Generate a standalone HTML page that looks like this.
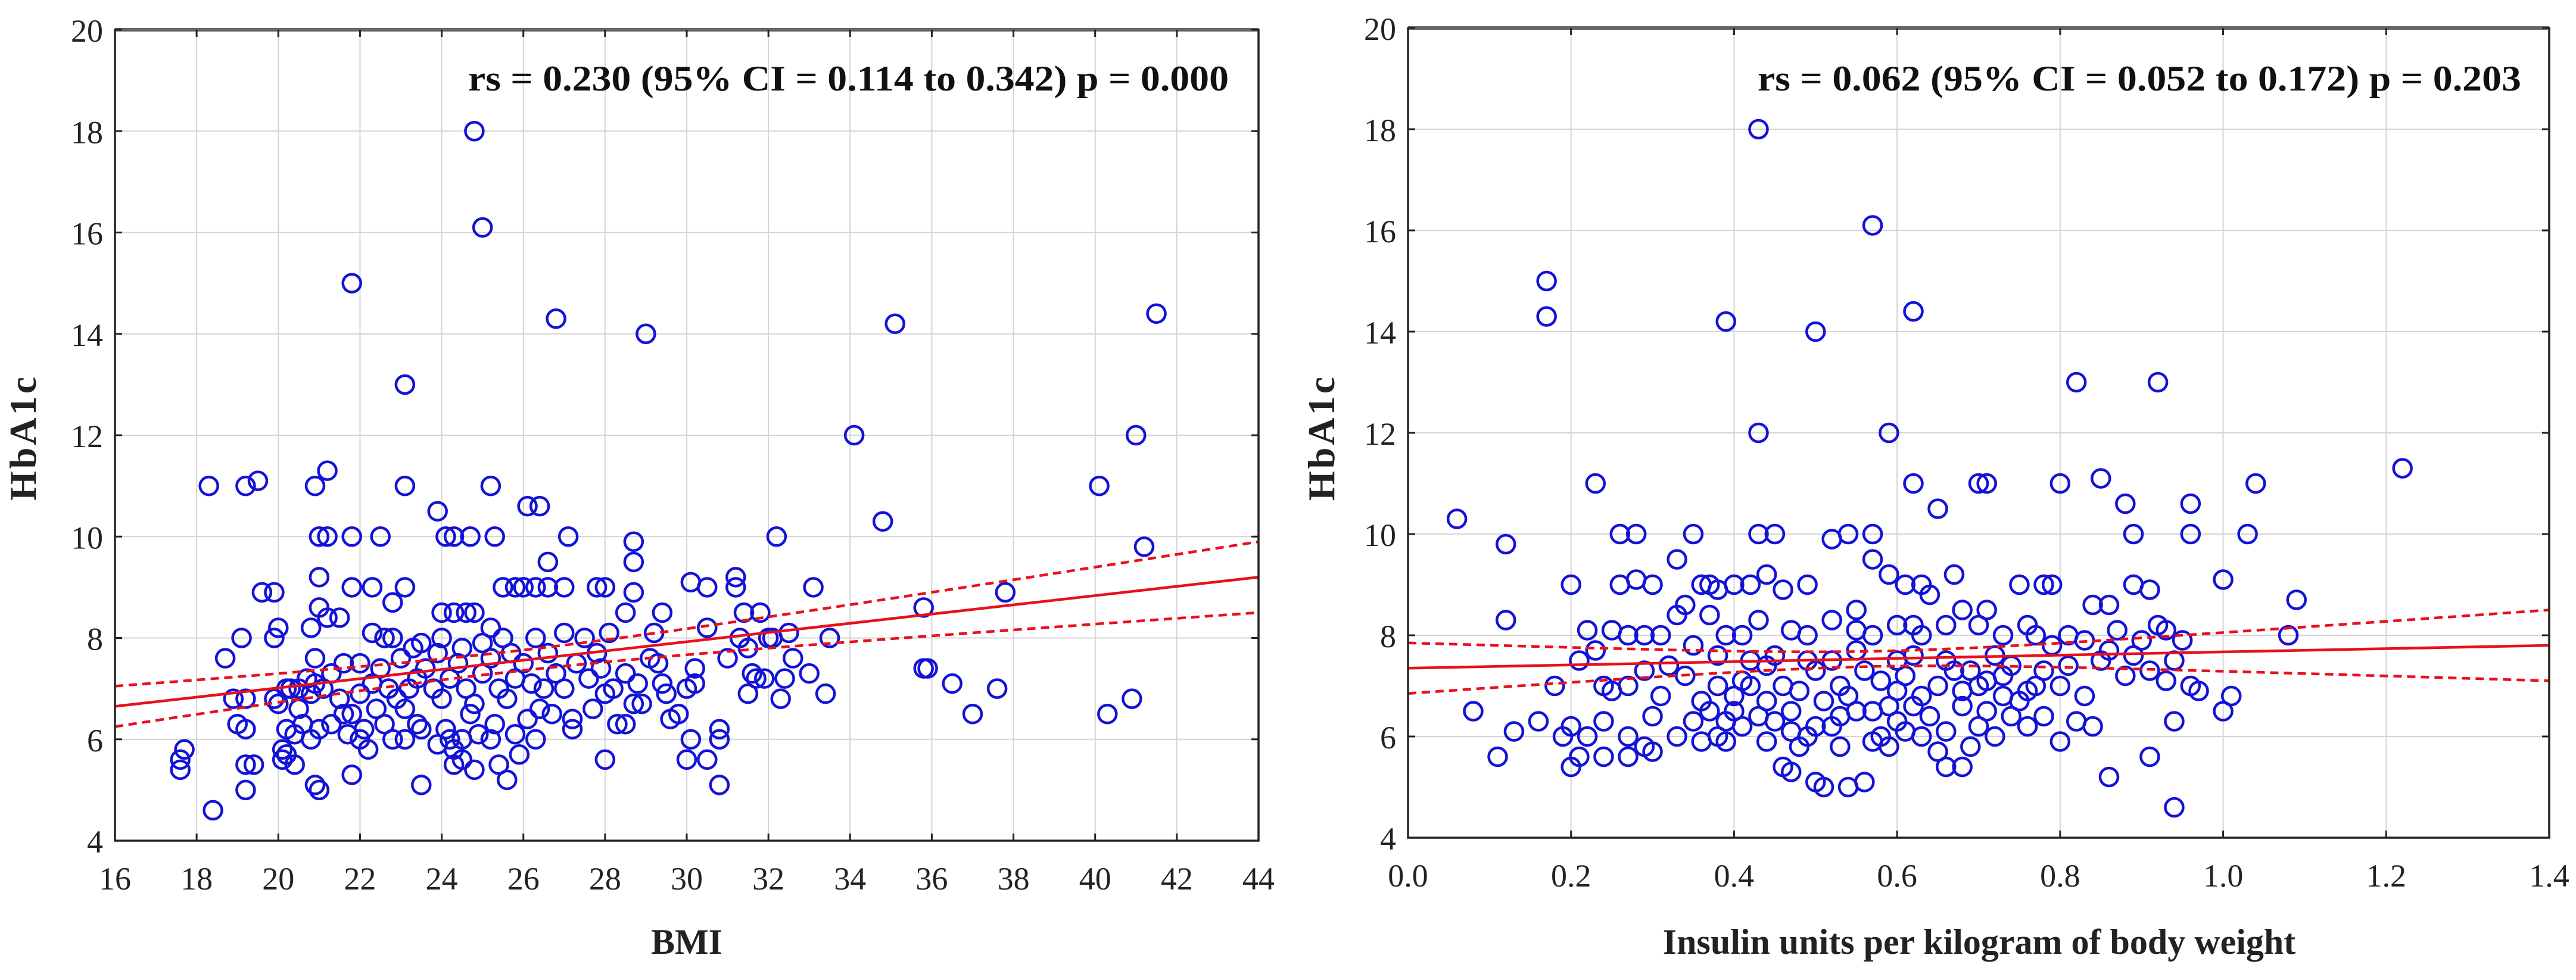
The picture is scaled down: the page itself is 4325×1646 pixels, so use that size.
<!DOCTYPE html>
<html><head><meta charset="utf-8">
<style>
html,body{margin:0;padding:0;background:#fff;}
svg{display:block;font-family:"Liberation Serif",serif;}
</style></head>
<body>
<svg id="chart" width="4325" height="1646" viewBox="0 0 4325 1646" xmlns="http://www.w3.org/2000/svg"></svg>
<script>
// ---- data: left panel (BMI vs HbA1c)
const bmiX = [24.8,25,21.8,26.8,29,35.1,41.5,23.1,34.1,41,40.1,18.3,19.2,19.5,20.9,21.2,23.1,25.2,23.9,26.1,26.4,34.8,41.2,21,21.2,21.8,22.5,24.1,24.3,24.7,25.3,27.1,32.2,28.7,28.7,26.6,19.6,19.9,21,21.8,22.3,22.8,23.1,25.5,25.8,26,26.3,26.6,27,27.8,28,28.7,29.4,30.1,30.5,31.2,31.2,33.1,37.8,35.8,31.4,31.8,28.5,24,24.3,24.6,24.8,21,20,20.8,19.1,19.9,21.2,21.5,22.3,22.6,22.8,23.5,24,25.2,25.5,26.3,27.0,27.5,28.1,29.2,30.5,31.3,32.0,32.5,33.5,18.7,18.9,19.2,19.0,19.2,17.6,17.7,17.6,18.4,19.2,19.4,19.2,20.9,21.0,20.1,20.1,20.2,20.4,21.8,22.2,23.5,24.3,24.5,25.4,25.6,24.8,24.3,25.9,28,30,30.5,30.8,30.1,30.8,30.8,29.6,29.8,31.0,31.6,31.7,31.5,31.9,32.4,33.0,33.4,32.3,35.8,35.9,36.5,37.0,37.6,40.3,40.9,31.5,32.1,32.6,30.2,30.2,30.0,29.3,29.4,28.7,28.9,28.5,28.3,27.2,27.2,26.7,26.1,26.3,25.8,25.3,25.2,24.9,24.5,24.2,23.9,23.5,23.1,22.8,22.6,22.1,22.0,21.7,21.6,21.3,21.0,20.8,20.6,20.4,20.2,20.5,20.8,20.7,20.3,20.5,20.9,21.1,21.3,21.5,21.8,22.0,22.3,22.5,22.7,22.9,23.2,23.4,23.6,23.8,24.0,24.2,24.4,24.6,24.8,25.0,25.2,25.4,25.6,25.8,26.0,26.2,26.5,26.8,27.0,27.3,27.6,27.9,28.2,28.5,28.8,29.1,23.0,23.3,23.9,24.5,25.0,25.7,26.6,27.8,22.0,21.6,20.9,20.2,20.0,19.9,22.4,23.1,24.7,26.4,27.7,29.5,28.0,23.4,24.1];
const bmiY = [18,16.1,15,14.3,14,14.2,14.4,13,12,12,11,11,11,11.1,11,11.3,11,11,10.5,10.6,10.6,10.3,9.8,10,10,10,10,10,10,10,10,10,10,9.9,9.5,9.5,8.9,8.9,9.2,9,9,8.7,9,9,9,9,9,9,9,9,9,8.9,8.5,9.1,9,9.2,9,9,8.9,8.6,8.5,8.5,8.5,8.5,8.5,8.5,8.5,8.6,8.2,8.2,8,8,8.4,8.4,8.1,8,8,7.9,8,8.2,8,8,8.1,8,8.1,8.1,8.2,8,8,8.1,8,7.6,6.8,6.8,6.3,6.2,5.6,5.8,5.4,4.6,5.5,5.5,5.0,5.1,5.0,5.8,5.6,5.7,5.5,5.3,5.8,5.1,5.5,5.6,5.5,5.2,5.4,5.8,5.7,5.6,5.6,5.6,5.1,6.0,6.2,6.0,6.4,6.5,7.6,7.3,7.2,6.9,7.2,7.2,7.3,6.9,6.8,7.4,7.4,7.1,6.5,7,6.5,6.8,7.8,8.0,7.6,7.4,7.1,7.0,7.5,7.1,6.7,6.7,6.3,6.3,6.2,6.4,6.5,6.4,6.0,6.1,6.3,6.0,6.1,6.0,6.0,5.9,6.2,6.0,6.0,6.3,6.2,6.0,6.1,6.5,6.3,6.2,6.0,6.3,6.1,6.2,6.6,6.9,7.2,7.0,7.0,7.1,7.0,7.3,6.8,6.5,6.9,7.1,7.4,7.0,6.8,7.0,7.2,7.4,7.0,6.8,7.2,7.5,7.0,6.7,7.3,7.6,7.0,6.8,7.2,7.5,7.1,7.0,7.3,7.0,7.5,7.2,7.4,7.0,7.3,7.1,7.6,7.6,7.8,7.7,7.8,7.9,7.7,7.7,7.7,7.5,7.5,7.6,7.0,6.7,6.8,6.6,6.6,6.5,6.6,6.6,6.9,6.9,6.3,6.2];
const bmiTicks = [16,18,20,22,24,26,28,30,32,34,36,38,40,42,44];
const bmiFit = [6.65, 9.2];
const bmiBand = [0.40, 0.70, 0.2];
// ---- data: right panel (insulin/kg vs HbA1c)
const insX = [0.43,0.57,0.17,0.17,0.39,0.5,0.62,0.82,0.92,0.43,0.59,1.22,0.23,0.62,0.7,0.71,0.8,0.85,1.04,0.88,0.96,0.65,0.06,0.12,0.26,0.28,0.35,0.43,0.45,0.52,0.54,0.57,0.89,0.96,1.03,1.0,1.09,1.08,0.95,0.12,0.2,0.26,0.28,0.3,0.33,0.36,0.37,0.38,0.4,0.42,0.44,0.46,0.49,0.55,0.57,0.59,0.61,0.63,0.64,0.67,0.71,0.75,0.78,0.79,0.84,0.86,0.89,0.91,0.62,0.22,0.25,0.27,0.29,0.31,0.33,0.34,0.37,0.39,0.41,0.43,0.47,0.49,0.52,0.55,0.57,0.6,0.63,0.66,0.68,0.7,0.73,0.76,0.77,0.81,0.83,0.87,0.9,0.92,0.93,0.21,0.23,0.24,0.18,0.19,0.08,0.11,0.16,0.13,0.2,0.22,0.24,0.21,0.2,0.24,0.27,0.29,0.27,0.3,0.3,0.33,0.35,0.36,0.37,0.38,0.39,0.39,0.4,0.41,0.42,0.44,0.45,0.46,0.47,0.48,0.5,0.51,0.49,0.52,0.53,0.54,0.56,0.55,0.57,0.59,0.6,0.61,0.63,0.65,0.66,0.68,0.69,0.71,0.72,0.74,0.76,0.78,0.8,0.82,0.84,0.86,0.91,0.94,0.94,0.97,1.0,1.01,0.96,0.93,0.91,0.88,0.85,0.83,0.8,0.78,0.75,0.73,0.7,0.68,0.67,0.65,0.63,0.61,0.6,0.58,0.57,0.56,0.54,0.53,0.51,0.5,0.48,0.47,0.46,0.44,0.43,0.41,0.4,0.38,0.36,0.34,0.32,0.31,0.29,0.27,0.25,0.62,0.66,0.69,0.72,0.74,0.77,0.79,0.81,0.86,0.89,0.94,0.55,0.52,0.49,0.45,0.42,0.38,0.35,0.59,0.64,0.7,0.73,0.76,0.53,0.5,0.47,0.44,0.58,0.66,0.62,0.68,0.71,0.6];
const insY = [18,16.1,15,14.3,14.2,14,14.4,13,13,12,12,11.3,11,11,11,11,11,11.1,11,10.6,10.6,10.5,10.3,9.8,10,10,10,10,10,9.9,10,10,10,10,10,9.1,8.7,8,7.9,8.3,9,9.0,9.1,9.0,9.5,9,9,8.9,9,9,9.2,8.9,9,8.5,9.5,9.2,9.0,9,8.8,9.2,8.5,9,9,9,8.6,8.6,9.0,8.9,8.2,8.1,8.1,8.0,8,8.0,8.4,8.6,8.4,8,8,8.3,8.1,8,8.3,8.1,8,8.2,8.0,8.2,8.5,8.2,8.0,8.2,8,8,7.9,8.1,7.9,8.2,8.1,7.5,7.7,7.0,7.0,6.0,6.5,5.6,6.3,6.1,6.2,6.0,6.3,5.6,5.4,5.6,5.6,5.8,6.0,6.4,5.7,6.0,6.3,5.9,6.5,6.0,5.9,6.3,6.8,6.2,7.0,7.4,6.3,5.4,5.3,5.8,5.1,5.0,6.0,6.2,5.8,5.0,5.1,6.5,5.9,5.8,6.3,6.1,6.0,5.7,5.4,5.4,5.8,6.5,6.0,6.4,6.2,6.4,5.9,6.3,6.2,5.2,5.6,4.6,6.3,6.9,6.5,6.8,7.0,7.1,7.3,7.2,7.5,6.8,7.0,7.3,6.7,7.2,7.0,6.6,7.3,7.0,6.8,7.2,6.9,7.1,6.5,7.3,6.8,7.0,6.7,7.3,6.9,6.5,7.0,6.7,6.4,7.1,6.5,7.0,6.7,7.2,7.4,6.8,7.3,7.0,6.9,7.6,7.5,7.3,7.6,7.4,7.0,7.8,7.4,7.7,7.6,7.5,7.7,7.5,7.5,7.6,7.5,7.6,7.8,6.6,6.4,6.2,6.8,6.9,6.4,6.2,6.1,5.9,6.0,6.1,6.6,6.9,7.1,7.5];
const insTicks = [0.0,0.2,0.4,0.6,0.8,1.0,1.2,1.4];
const insFit = [7.35, 7.8];
const insBand = [0.5, 0.7, 0.15];
const yTicks = [4,6,8,10,12,14,16,18,20];

const NS = "http://www.w3.org/2000/svg";
const svg = document.getElementById('chart');
function el(tag, attrs, parent) {
  const e = document.createElementNS(NS, tag);
  for (const k in attrs) e.setAttribute(k, attrs[k]);
  (parent || svg).appendChild(e);
  return e;
}

function panel(cfg) {
  const g = el('g', {});
  
  
  const xs = v => cfg.x0 + (v - cfg.xmin) / (cfg.xmax - cfg.xmin) * (cfg.x1 - cfg.x0);
  const ys = v => cfg.y1 - (v - 4) / 16 * (cfg.y1 - cfg.y0);
  cfg.xticks.forEach(t => {
    const l = el('line', {x1: xs(t), x2: xs(t), y1: cfg.y0, y2: cfg.y1, stroke: '#d4d4d4', 'stroke-width': 2}, g);
    
    
  });
  yTicks.forEach(t => {
    const l = el('line', {x1: cfg.x0, x2: cfg.x1, y1: ys(t), y2: ys(t), stroke: '#d4d4d4', 'stroke-width': 2}, g);
    
    
  });
  for (let i = 0; i < cfg.px.length; i++) {
    const c = el('circle', {cx: xs(cfg.px[i]), cy: ys(cfg.py[i]), r: 15, fill: 'none', stroke: '#1212d8', 'stroke-width': 4.5}, g);
    
    
  }
  const fx = v => cfg.fit[0] + (cfg.fit[1] - cfg.fit[0]) * (v - cfg.xmin) / (cfg.xmax - cfg.xmin);
  const hL = cfg.band[0], hR = cfg.band[1], hm = cfg.band[2];
  const a = hm * hm;
  const span = cfg.xmax - cfg.xmin;
  const rL = Math.sqrt(hL * hL - a), rR = Math.sqrt(hR * hR - a);
  const m = cfg.xmin + span * rL / (rL + rR);
  const b = (rL / (m - cfg.xmin)) ** 2;
  const hw = v => Math.sqrt(a + b * (v - m) ** 2);
  const N = 60;
  let up = '', lo = '';
  for (let k = 0; k <= N; k++) {
    const v = cfg.xmin + span * k / N;
    up += (k ? 'L' : 'M') + xs(v).toFixed(1) + ',' + ys(fx(v) + hw(v)).toFixed(1);
    lo += (k ? 'L' : 'M') + xs(v).toFixed(1) + ',' + ys(fx(v) - hw(v)).toFixed(1);
  }
  const pu = el('path', {d: up, fill: 'none', stroke: '#e8101a', 'stroke-width': 4.5, 'stroke-dasharray': '14 9'}, g);
  
  
  const pl = el('path', {d: lo, fill: 'none', stroke: '#e8101a', 'stroke-width': 4.5, 'stroke-dasharray': '14 9'}, g);
  
  
  const fl = el('line', {x1: xs(cfg.xmin), y1: ys(cfg.fit[0]), x2: xs(cfg.xmax), y2: ys(cfg.fit[1]), stroke: '#e8101a', 'stroke-width': 4.5}, g);
  
  
  const fr = el('rect', {x: cfg.x0, y: cfg.y0, width: cfg.x1 - cfg.x0, height: cfg.y1 - cfg.y0, fill: 'none', stroke: '#222', 'stroke-width': 3.5}, g);
  
  
  el('line', {x1: cfg.x0, x2: cfg.x1, y1: cfg.y0, y2: cfg.y0, stroke: '#666', 'stroke-width': 6}, g);
  cfg.xticks.forEach(t => {
    el('line', {x1: xs(t), x2: xs(t), y1: cfg.y1, y2: cfg.y1 - 12, stroke: '#222', 'stroke-width': 3}, g);
    el('line', {x1: xs(t), x2: xs(t), y1: cfg.y0, y2: cfg.y0 + 12, stroke: '#222', 'stroke-width': 3}, g);
    const tx = el('text', {x: xs(t), y: cfg.y1 + 82, 'text-anchor': 'middle', 'font-size': 54, fill: '#222'}, g);
    
    
    tx.textContent = cfg.fmt(t);
  });
  yTicks.forEach(t => {
    el('line', {x1: cfg.x0, x2: cfg.x0 + 12, y1: ys(t), y2: ys(t), stroke: '#222', 'stroke-width': 3}, g);
    el('line', {x1: cfg.x1, x2: cfg.x1 - 12, y1: ys(t), y2: ys(t), stroke: '#222', 'stroke-width': 3}, g);
    const tx = el('text', {x: cfg.x0 - 20, y: ys(t) + 20, 'text-anchor': 'end', 'font-size': 54, fill: '#222'}, g);
    
    
    tx.textContent = t;
  });
  const xt = el('text', {x: cfg.xtX, y: 1602, 'text-anchor': 'middle', 'font-size': 60, 'font-weight': 'bold', fill: '#222'}, g);
  
  
  xt.textContent = cfg.xtitle;
  const yt = el('text', {x: 0, y: 0, transform: 'translate(' + cfg.ytX + ',735) rotate(-90)', 'text-anchor': 'middle', 'font-size': 64, 'font-weight': 'bold', 'letter-spacing': 4, fill: '#222'}, g);
  
  
  yt.textContent = 'HbA1c';
  const an = el('text', {x: cfg.anX, y: 152, 'font-size': 60, 'font-weight': 'bold', fill: '#111', textLength: cfg.anW, lengthAdjust: 'spacingAndGlyphs', 'xml:space': 'preserve'}, g);
  
  
  an.textContent = cfg.ann;
}

panel({name: 'bmi-panel', x0: 193, x1: 2113, y0: 50, y1: 1412, xmin: 16, xmax: 44,
  xticks: bmiTicks, px: bmiX, py: bmiY, fit: bmiFit, band: bmiBand, fmt: t => String(t),
  xtitle: 'BMI', xtX: 1153, ytX: 60, anX: 786, anW: 1277,
  ann: 'rs = 0.230  (95% CI = 0.114 to 0.342) p = 0.000'});
panel({name: 'insulin-panel', x0: 2364, x1: 4280, y0: 47, y1: 1407, xmin: 0, xmax: 1.4,
  xticks: insTicks, px: insX, py: insY, fit: insFit, band: insBand, fmt: t => t.toFixed(1),
  xtitle: 'Insulin units per kilogram of body weight', xtX: 3323, ytX: 2240, anX: 2951, anW: 1282,
  ann: 'rs = 0.062  (95% CI = 0.052 to 0.172) p = 0.203'});
</script>
</body></html>
